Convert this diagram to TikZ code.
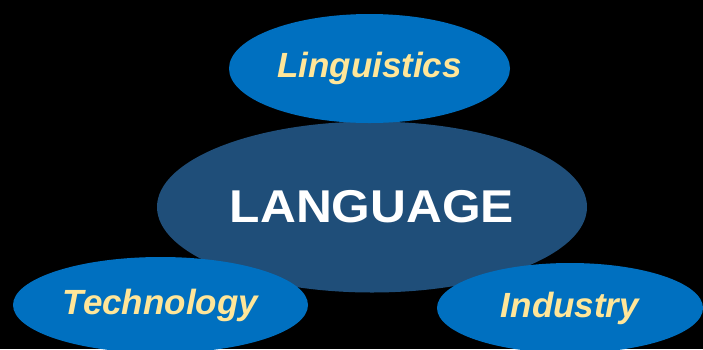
\documentclass[tikz,border=0pt]{standalone}
\usepackage{fontspec}
\setmainfont{Liberation Sans}
\usepackage{xcolor}
\usepackage{tikz}
\usetikzlibrary{shapes.geometric}

\definecolor{darkblue}{HTML}{1F4E79}
\definecolor{lightblue}{HTML}{0070C0}
\definecolor{paleyellow}{HTML}{FFE699}

\begin{document}
\begin{tikzpicture}[x=1pt, y=-1pt,
        core/.style={ellipse, fill=darkblue, inner sep=0pt, minimum width=430pt, minimum height=171pt,
            text=white, font=\fontsize{46}{50}\selectfont\bfseries},
        field/.style={ellipse, fill=lightblue, inner sep=0pt,
            text=paleyellow, font=\fontsize{35}{40}\selectfont\bfseries\itshape}]
        \fill[black] (0,0) rectangle (703,349);
        \useasboundingbox (0,0) rectangle (703,349);

        \node[core] (lang) at (372,207) {\scalebox{1.08}[1]{LANGUAGE}};
        \node[field, minimum width=281pt, minimum height=109pt] (ling) at (369.5,68.5) {Linguistics};
        \node[field, minimum width=295pt, minimum height=96pt] (tech) at (160.5,305) {Technology};
        \node[field, minimum width=266pt, minimum height=90pt] (ind) at (570,308) {Industry};
    \end{tikzpicture}
\end{document}
